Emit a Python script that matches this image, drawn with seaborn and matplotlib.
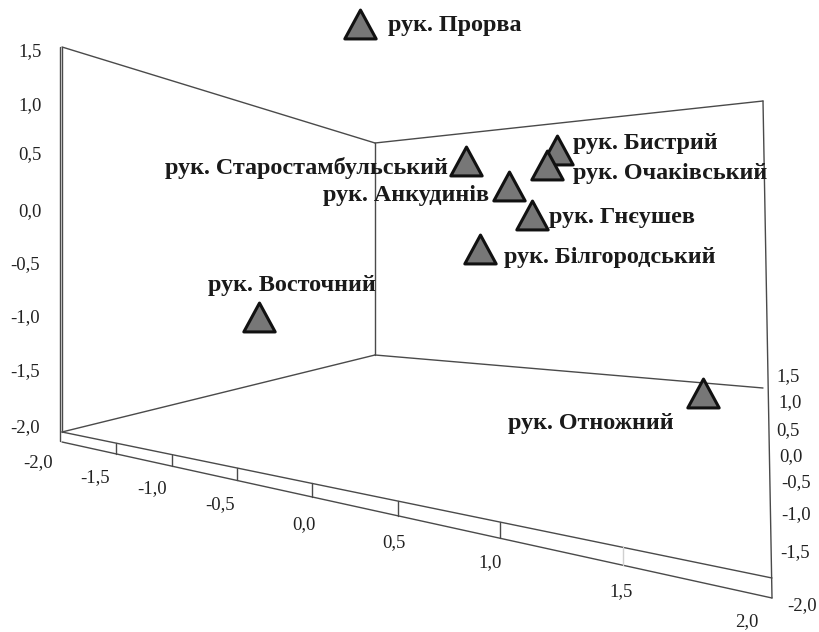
import pandas as pd
import matplotlib.pyplot as plt
import seaborn as sns
from matplotlib.path import Path

branches = ['рук. Прорва', 'рук. Бистрий', 'рук. Очаківський', 'рук. Старостамбульський',
            'рук. Анкудинів', 'рук. Гнєушев', 'рук. Білгородський', 'рук. Восточний', 'рук. Отножний']
proj_x = [360, 557, 547, 466, 509, 532, 480, 259, 703]
proj_y = [24, 150, 165, 161, 186, 215, 249, 317, 393]
label_x = [388, 573, 573, 165, 323, 549, 504, 208, 508]
label_y = [26, 143, 174, 168, 195, 217, 257, 285, 424]

left_ticks = ['1,5', '1,0', '0,5', '0,0', '-0,5', '-1,0', '-1,5', '-2,0']
left_x = [30, 30, 30, 30, 25, 25, 25, 25]
left_y = [52, 106, 155, 212, 265, 318, 372, 428]
front_ticks = ['-2,0', '-1,5', '-1,0', '-0,5', '0,0', '0,5', '1,0', '1,5', '2,0']
front_x = [38, 95, 152, 220, 304, 394, 490, 621, 747]
front_y = [463, 478, 489, 505, 525, 543, 563, 592, 622]
right_ticks = ['1,5', '1,0', '0,5', '0,0', '-0,5', '-1,0', '-1,5', '-2,0']
right_x = [788, 790, 788, 791, 796, 796, 795, 802]
right_y = [377, 403, 431, 457, 483, 515, 553, 606]
tick_marks = [116, 172, 237, 312, 398, 500, 623]

df = pd.DataFrame({'branch': branches, 'x': proj_x, 'y': proj_y})

sns.set_theme(style='white')
plt.rcParams['font.family'] = ['Liberation Serif', 'DejaVu Serif']

fig = plt.figure(figsize=(8.2, 6.32), dpi=100)
ax = fig.add_axes([0, 0, 1, 1])
ax.set_xlim(0, 820)
ax.set_ylim(632, 0)
ax.axis('off')

# box walls and floor
frame = [
    ([60, 60], [47, 441]),
    ([62, 62], [47, 432]),
    ([62, 375], [47, 143]),
    ([375, 375], [143, 355]),
    ([375, 763], [143, 101]),
    ([763, 772], [101, 598]),
    ([375, 763], [355, 388]),
    ([62, 375], [432, 355]),
    ([62, 772], [432, 578]),
    ([62, 772], [442, 598]),
]
for fx, fy in frame:
    ax.plot(fx, fy, color='#4a4a4a', lw=1.0, zorder=1)

# ticks between the two front edges
for i, t in enumerate(tick_marks):
    top = 432 + (t - 62) * 146 / 710
    bottom = 442 + (t - 62) * 156 / 710
    col = '#d0d0d0' if i == len(tick_marks) - 1 else '#4a4a4a'
    ax.plot([t, t], [top, bottom], color=col, lw=1.0, zorder=1)

# triangle a bit flatter than the stock '^'
tri = Path([(-1, -0.92), (1, -0.92), (0, 0.92), (-1, -0.92)], closed=True)
sns.scatterplot(data=df, x='x', y='y', marker=tri, s=510, color='#777777',
                edgecolor='#111111', linewidth=2.2, legend=False, ax=ax, zorder=3)
ax.set_xlim(0, 820)
ax.set_ylim(632, 0)
ax.axis('off')

for name, lx, ly in zip(branches, label_x, label_y):
    ax.text(lx, ly, name, fontsize=17.4, fontweight='bold', color='#1a1a1a',
            ha='left', va='center', zorder=4)

for labels, xs, ys in [(left_ticks, left_x, left_y), (front_ticks, front_x, front_y),
                       (right_ticks, right_x, right_y)]:
    for lab, tx, ty in zip(labels, xs, ys):
        ax.text(tx, ty, lab, fontsize=13.5, color='#222222', ha='center', va='center')

fig.savefig('out.png', dpi=100)
